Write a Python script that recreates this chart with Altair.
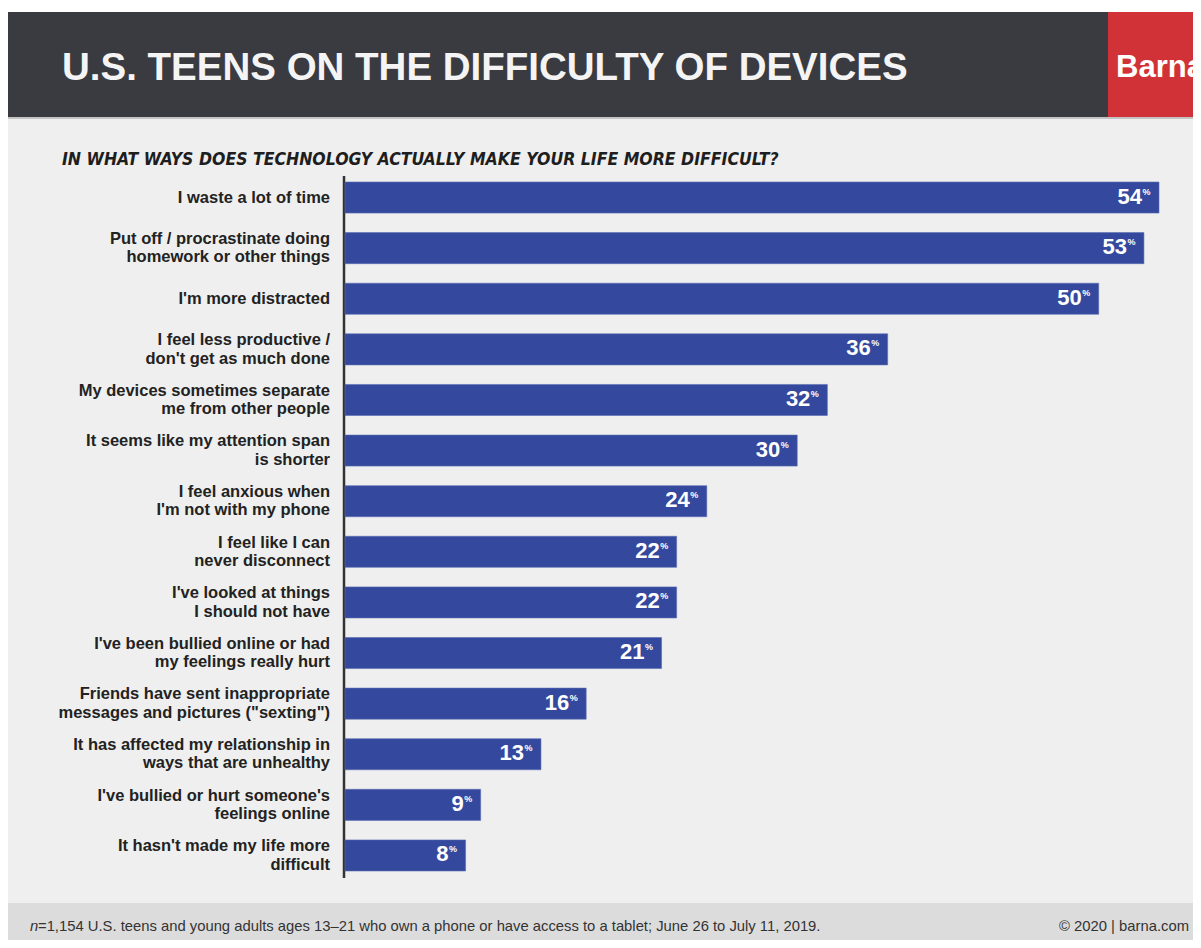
import altair as alt
import pandas as pd

categories = [
    "I waste a lot of time",
    "Put off / procrastinate doing\nhomework or other things",
    "I'm more distracted",
    "I feel less productive /\ndon't get as much done",
    "My devices sometimes separate\nme from other people",
    "It seems like my attention span\nis shorter",
    "I feel anxious when\nI'm not with my phone",
    "I feel like I can\nnever disconnect",
    "I've looked at things\nI should not have",
    "I've been bullied online or had\nmy feelings really hurt",
    "Friends have sent inappropriate\nmessages and pictures (\"sexting\")",
    "It has affected my relationship in\nways that are unhealthy",
    "I've bullied or hurt someone's\nfeelings online",
    "It hasn't made my life more\ndifficult",
]
values = [54, 53, 50, 36, 32, 30, 24, 22, 22, 21, 16, 13, 9, 8]

TITLE = "U.S. TEENS ON THE DIFFICULTY OF DEVICES"
SUBTITLE = "IN WHAT WAYS DOES TECHNOLOGY ACTUALLY MAKE YOUR LIFE MORE DIFFICULT?"
BRAND = "Barna"
NOTE_N = "n"
NOTE = "=1,154 U.S. teens and young adults ages 13\u201321 who own a phone or have access to a tablet; June 26 to July 11, 2019."
COPY = "\u00a9 2020 | barna.com"

lines = [c.split("\n") for c in categories]
df = pd.DataFrame({
    "cat": categories,
    "value": values,
    "num": [str(v) for v in values],
    "pct": ["%"] * len(values),
    "line1": [l[0] for l in lines],
    "line2": [l[1] if len(l) > 1 else "" for l in lines],
    "nlines": [len(l) for l in lines],
})

W, H = 1185, 932
NAVY = "#34499d"
COND = "DejaVu Sans Condensed, Liberation Sans, sans-serif"
SANS = "Liberation Sans, Arial, Helvetica, sans-serif"

one = pd.DataFrame({"a": [0]})

xs = alt.Scale(domain=[0, 54], range=[337, 1151], nice=False, zero=True)
ys = alt.Scale(domain=categories, range=[174, 863], paddingInner=0.386, paddingOuter=0)

X = alt.X("value:Q", scale=xs, axis=None)
Y = alt.Y("cat:N", scale=ys, axis=None, sort=categories)

def rect(x1, x2, y1, y2, color):
    return alt.Chart(one).mark_rect(color=color).encode(
        x=alt.value(x1), x2=alt.value(x2), y=alt.value(y1), y2=alt.value(y2))

def label(text, x, y, **kw):
    return alt.Chart(one).mark_text(text=text, **kw).encode(
        x=alt.value(x), y=alt.value(y))

white_top = rect(0, W, 0, 4, "white")
header = rect(0, 1100, 4, 110, "#393b40")
red = rect(1100, W, 4, 110, "#d13237")
hline = rect(0, W, 109, 111, "#c4c4c4")
footer = rect(0, W, 895, H, "#dcdcdc")

title = label(TITLE, 54, 72, font=SANS, fontSize=38.5, fontWeight="bold",
              color="#f4f4f4", align="left", baseline="alphabetic")
brand = label(BRAND, 1108, 69, font=SANS, fontSize=31, fontWeight="bold",
              color="white", align="left", baseline="alphabetic")
subtitle = label(SUBTITLE, 54, 157, font=COND, fontSize=17.5, fontWeight="bold",
                 fontStyle="italic", color="#1e1e1e", align="left",
                 baseline="alphabetic")
note_n = label(NOTE_N, 22, 923, font=SANS, fontSize=14.8, fontStyle="italic",
               color="#333333", align="left", baseline="alphabetic")
note = label(NOTE, 30, 923, font=SANS, fontSize=14.8, color="#333333",
             align="left", baseline="alphabetic")
copy = label(COPY, 1181, 923, font=SANS, fontSize=14.8, color="#333333",
             align="right", baseline="alphabetic")

axis_line = alt.Chart(one).mark_rule(color="#333333", strokeWidth=2.5).encode(
    x=alt.value(336), y=alt.value(168), y2=alt.value(870))

base = alt.Chart(df)
bars = base.mark_bar(color=NAVY, stroke="#5b6db3", strokeWidth=0.6).encode(
    x=X, x2=alt.datum(0), y=Y)
nums = base.mark_text(font=SANS, fontSize=22, fontWeight="bold", color="white",
                      align="right", baseline="middle", dx=-17, dy=-1).encode(
    x=X, y=Y, text="num:N")
pcts = base.mark_text(font=SANS, fontSize=9, fontWeight="bold", color="white",
                      align="left", baseline="middle", dx=-16.5, dy=-6).encode(
    x=X, y=Y, text="pct:N")

cat_kw = dict(font=SANS, fontSize=16.5, fontWeight="bold", color="#222222",
              align="right", baseline="middle")
cats1 = base.transform_filter("datum.nlines == 1").mark_text(**cat_kw).encode(
    x=alt.value(322), y=Y, text="line1:N")
cats_top = base.transform_filter("datum.nlines == 2").mark_text(dy=-9.2, **cat_kw).encode(
    x=alt.value(322), y=Y, text="line1:N")
cats_bot = base.transform_filter("datum.nlines == 2").mark_text(dy=9.2, **cat_kw).encode(
    x=alt.value(322), y=Y, text="line2:N")

chart = alt.layer(
    white_top, header, red, hline, footer, title, brand, subtitle,
    note_n, note, copy, axis_line, bars, nums, pcts, cats1, cats_top, cats_bot,
).properties(
    width=W, height=H, autosize=alt.AutoSizeParams(type="none"), padding=0,
    background="white",
).configure_view(stroke=None, fill="#efefef")

chart.save("out.html", embed_options={"renderer": "svg", "actions": False})
